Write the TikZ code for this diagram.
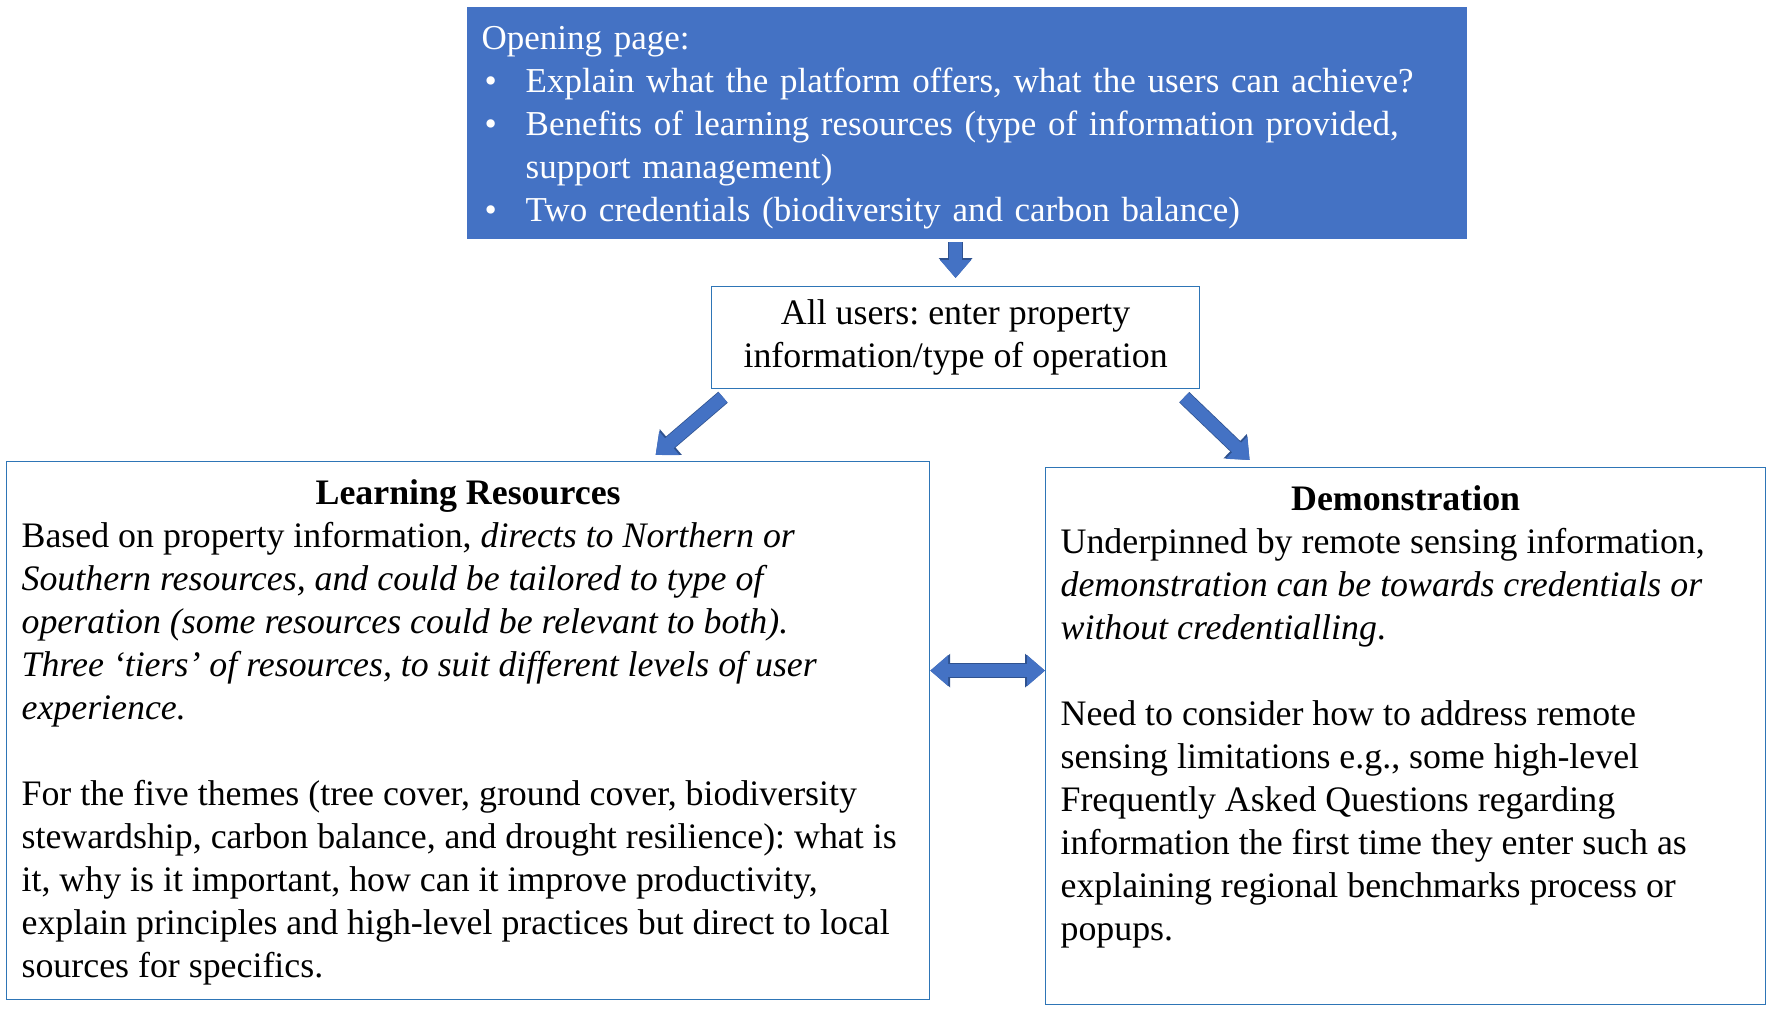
\documentclass[tikz,border=0pt]{standalone}
\usepackage{fontspec}
\setmainfont{Liberation Serif}
\usepackage{tikz}
\usetikzlibrary{arrows.meta, positioning, calc}
\usepackage{xcolor}
\definecolor{pageBlue} {HTML}{4472C4}
\definecolor{edgeBlue} {HTML}{2F528F}
\definecolor{lineBlue} {HTML}{2E75B6}
\newcommand{\diagfont}{\fontsize{10.2}{12.24}\selectfont\frenchspacing}
\newcommand{\openfont}{\fontsize{9.95}{12.24}\selectfont\frenchspacing}
\tikzset{
  openbox/.style  = {rectangle, fill=pageBlue, text=white, anchor=north west,
                     inner xsep=1.5mm, inner ysep=0pt, align=left, font=\openfont},
  userbox/.style  = {rectangle, draw=lineBlue, line width=0.35pt, anchor=north west,
                     align=center, font=\diagfont},
  panel/.style    = {rectangle, draw=lineBlue, line width=0.35pt, anchor=north west,
                     inner xsep=1.5mm, inner ysep=1.3mm, font=\diagfont},
  blockarrow/.style = {line width=1.3mm, color=pageBlue,
                     -{Triangle[width=3.0mm, length=1.8mm]},
                     preaction={draw=edgeBlue, line width=1.45mm,
                       -{Triangle[width=3.25mm, length=2.0mm]}}},
  dblarrow/.style = {line width=1.3mm, color=pageBlue,
                     {Triangle[width=3.0mm, length=1.8mm]}-{Triangle[width=3.0mm, length=1.8mm]},
                     preaction={draw=edgeBlue, line width=1.45mm,
                       {Triangle[width=3.25mm, length=2.0mm]}-{Triangle[width=3.25mm, length=2.0mm]}}},
}

\begin{document}
\begin{tikzpicture}
  \useasboundingbox (0,0) rectangle (17.72,-10.10);

  % opening page
  \node[openbox, minimum width=10cm, minimum height=2.32cm, text width=9.7cm]
    (open) at (4.66,-0.06)
    {\rule{0pt}{3.4mm}Opening page:\\
     \makebox[4.4mm][l]{\hspace{0.3mm}\textbullet}Explain what the platform offers, what the users can achieve?\\
     \makebox[4.4mm][l]{\hspace{0.3mm}\textbullet}Benefits of learning resources (type of information provided,\\
     \hspace*{4.4mm}support management)\\
     \makebox[4.4mm][l]{\hspace{0.3mm}\textbullet}Two credentials (biodiversity and carbon balance)};

  \node[userbox, minimum width=4.88cm, minimum height=1.02cm]
    (users) at (7.11,-2.86)
    {All users: enter property\\information/type of operation};

  % the two panels
  \node[panel, minimum width=9.23cm, minimum height=5.38cm] (learn) at (0.06,-4.61)
    {\parbox[c][5.12cm][t]{8.93cm}{\raggedright
      \centerline{\strut\textbf{Learning Resources}}
      Based on property information, \textit{directs to Northern or}\\
      \textit{Southern resources, and could be tailored to type of}\\
      \textit{operation (some resources could be relevant to both).}\\
      \textit{Three ‘tiers’ of resources, to suit different levels of user}\\
      \textit{experience.}\par\vspace{\baselineskip}
      For the five themes (tree cover, ground cover, biodiversity\\
      stewardship, carbon balance, and drought resilience): what is\\
      it, why is it important, how can it improve productivity,\\
      explain principles and high-level practices but direct to local\\
      sources for specifics.}};

  \node[panel, minimum width=7.20cm, minimum height=5.37cm] (demo) at (10.45,-4.67)
    {\parbox[c][5.11cm][t]{6.9cm}{\raggedright
      \centerline{\strut\textbf{Demonstration}}
      Underpinned by remote sensing information,\\
      \textit{demonstration can be towards credentials or}\\
      \textit{without credentialling}.\par\vspace{\baselineskip}
      Need to consider how to address remote\\
      sensing limitations e.g., some high-level\\
      Frequently Asked Questions regarding\\
      information the first time they enter such as\\
      explaining regional benchmarks process or\\
      popups.}};

  % arrows
  \draw[blockarrow, shorten <=0.3mm, shorten >=0.8mm]
    (users.north |- open.south) -- (users.north);
  \draw[blockarrow] ([xshift=1.2mm,yshift=-0.8mm]users.south west)
    -- ([xshift=18.75mm,yshift=0.6mm]learn.north);
  \draw[blockarrow] ([xshift=-1.6mm,yshift=-0.8mm]users.south east)
    -- ([xshift=-15.6mm,yshift=0.7mm]demo.north);
  \draw[dblarrow] ([yshift=6mm]learn.east) -- ([yshift=6mm]learn.east -| demo.west);
\end{tikzpicture}
\end{document}
